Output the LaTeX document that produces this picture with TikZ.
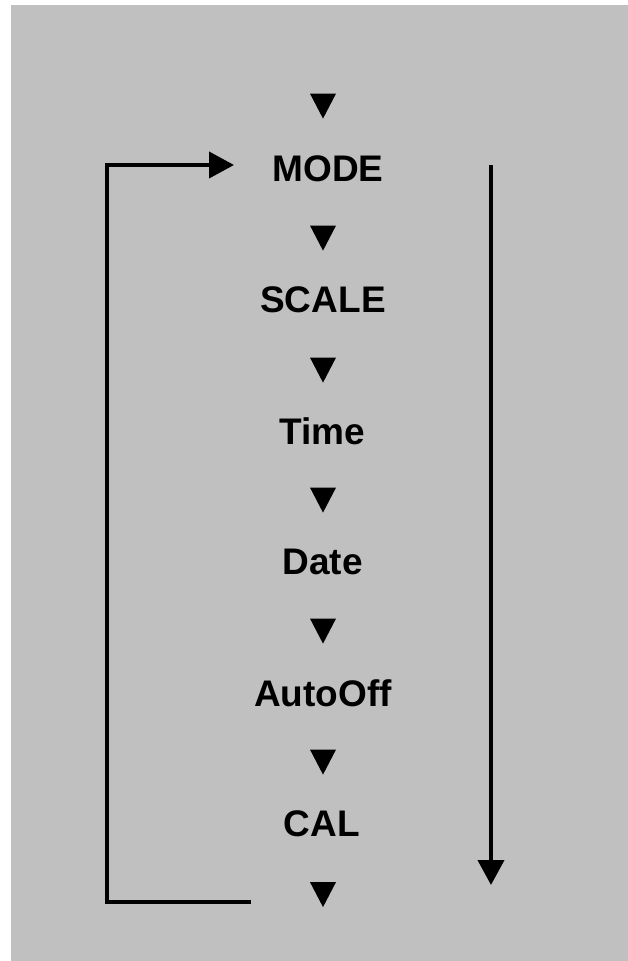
\documentclass[tikz,border=0pt]{standalone}
\usepackage{fontspec}
\setmainfont{Liberation Sans}
\usetikzlibrary{arrows.meta,shapes.geometric}
\definecolor{panel}{RGB}{192,192,192}
\tikzset{
  lbl/.style={anchor=base, font=\fontsize{37}{40}\selectfont\bfseries, inner sep=0pt},
  tri/.style={isosceles triangle, isosceles triangle stretches, shape border rotate=-90,
              minimum width=26pt, minimum height=25pt, inner sep=0pt, fill=black, draw=none},
  link/.style={line width=4pt, draw=black},
  head/.style={-{Triangle[length=25pt,width=26pt]}}
}
\begin{document}
\begin{tikzpicture}[x=1pt,y=-1pt]
  \useasboundingbox (0,0) rectangle (628,961);
  \fill[panel] (11,5) rectangle (628,961);

  % step markers
  \node[tri] (t1) at (323,101.5) {};
  \node[tri] (t2) at (323,233.5) {};
  \node[tri] (t3) at (323,365.5) {};
  \node[tri] (t4) at (323,495.5) {};
  \node[tri] (t5) at (323,626.5) {};
  \node[tri] (t6) at (323,757.5) {};
  \node[tri] (t7) at (323,890) {};

  % menu entries
  \node[lbl] (mode)  at (328,181) {MODE};
  \node[lbl] (scale) at (323,312) {SCALE};
  \node[lbl] (time)  at (322,444) {Time};
  \node[lbl] (date)  at (322.5,574) {Date};
  \node[lbl] (auto)  at (323,706) {AutoOff};
  \node[lbl] (cal)   at (322,836) {CAL};

  % return loop on the left
  \coordinate (loopstart) at (251,902);
  \coordinate (loopcorner1) at (107,902);
  \coordinate (loopcorner2) at (107,165);
  \coordinate (loopend) at (234,165);
  \draw[link, head, line join=miter] (loopstart) -- (loopcorner1) -- (loopcorner2) -- (loopend);

  % sequence arrow on the right
  \coordinate (seqtop) at (491,165);
  \coordinate (seqbottom) at (491,885);
  \draw[link, head] (seqtop) -- (seqbottom);
\end{tikzpicture}
\end{document}
